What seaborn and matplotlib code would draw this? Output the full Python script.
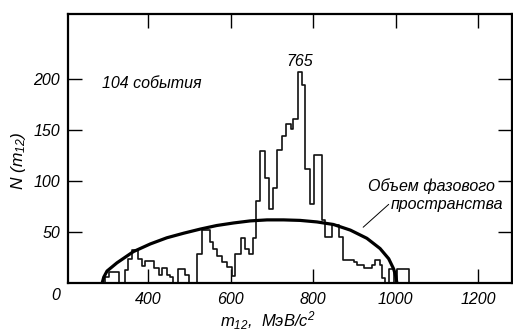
import numpy as np
import pandas as pd
import matplotlib
matplotlib.use("Agg")
import matplotlib.pyplot as plt
import seaborn as sns

# --- data ---
bin_edges = [288, 296, 304, 328, 344, 352, 360, 375, 385, 393,
             413, 425, 433, 445, 453, 461, 472, 490, 498, 518,
             530, 550, 558, 566, 579, 591, 603, 611, 625, 635,
             645, 653, 662, 672, 684, 692, 702, 712, 724, 735,
             746, 752, 762, 773, 781, 791, 801, 821, 829, 845,
             862, 873, 898, 906, 922, 942, 950, 961, 966, 974,
             983, 995, 1003, 1031, 1040]
bin_counts = [0, 6, 11, 0, 13, 24, 33, 24, 17, 22,
              15, 8, 15, 8, 6, 0, 14, 8, 0, 29,
              52, 40, 34, 27, 21, 16, 7, 29, 44, 34,
              29, 44, 80, 129, 103, 73, 93, 130, 144, 156,
              151, 161, 207, 194, 112, 78, 125, 62, 45, 57,
              45, 23, 21, 18, 15, 18, 23, 18, 5, 0,
              14, 0, 14, 0]

phase_mass = [288, 292, 300, 324, 364, 405, 445, 486, 526, 566, 607, 647,
              688, 728, 768, 809, 849, 890, 930, 962, 983, 995, 1000, 1003]
phase_value = [0, 6, 12, 20, 31, 38.5, 44.5, 49, 53, 56.5, 59, 61,
               62, 62, 61.5, 60, 57.5, 52, 44, 34, 24, 14, 7, 0]

x_ticks = [400, 600, 800, 1000, 1200]
y_ticks = [50, 100, 150, 200]

sns.set_theme(style="ticks")
FONT = ["Liberation Sans", "DejaVu Sans"]
plt.rcParams["font.family"] = FONT
plt.rcParams["font.style"] = "italic"
plt.rcParams["text.color"] = "black"
plt.rcParams["axes.labelcolor"] = "black"
plt.rcParams["mathtext.fontset"] = "custom"
plt.rcParams["mathtext.rm"] = "Liberation Sans:italic"
plt.rcParams["mathtext.it"] = "Liberation Sans:italic"

fig = plt.figure(figsize=(5.13, 3.31), dpi=100)
ax = fig.add_axes([0.1331, 0.1441, 0.865, 0.8127])

centers = [(a + b) / 2 for a, b in zip(bin_edges[:-1], bin_edges[1:])]
hist_df = pd.DataFrame({"m": centers, "n": bin_counts})
sns.histplot(data=hist_df, x="m", weights="n", bins=list(bin_edges),
             element="step", fill=False, color="#111111", linewidth=1.2, ax=ax)

phase_df = pd.DataFrame({"m": phase_mass, "v": phase_value})
sns.lineplot(data=phase_df, x="m", y="v", color="black", linewidth=2.3,
             sort=False, ax=ax)

ax.set_xlim(206, 1282)
ax.set_ylim(0, 263)
ax.set_xticks(x_ticks)
ax.set_yticks(y_ticks)
ax.tick_params(direction="in", length=10, width=1.0, top=True, right=True,
               labelsize=11.5, colors="black", pad=6)
for lab in ax.get_xticklabels() + ax.get_yticklabels():
    lab.set_fontstyle("italic")
for sp in ax.spines.values():
    sp.set_visible(True)
    sp.set_linewidth(1.6)
    sp.set_color("black")
ax.set_xlabel("")
ax.set_ylabel("")

fs = 11.5
fig.text(56 / 513, 1 - 295 / 331, "0", ha="center", va="center", fontsize=fs,
         style="italic", color="black")
fig.text(19 / 513, 1 - 161 / 331, r"$N\ (m_{12})$", ha="center", va="center",
         rotation=90, fontsize=12.5, color="black")
fig.text(268 / 513, 1 - 321 / 331, r"$m_{12}$,  МэВ/$c^2$", ha="center",
         va="center", fontsize=12, style="italic", color="black")

ax.text(767, 217, "765", ha="center", va="center", fontsize=fs, style="italic",
        color="black")
ax.text(288, 195, "104 события", ha="left", va="center", fontsize=fs,
        style="italic", color="black")
ax.text(933, 95, "Объем фазового", ha="left", va="center", fontsize=fs,
        style="italic", color="black")
ax.text(987, 76.6, "пространства", ha="left", va="center", fontsize=fs,
        style="italic", color="black")
ax.annotate("", xy=(916, 53), xytext=(988, 79),
            arrowprops=dict(arrowstyle="-", color="black", linewidth=0.7))

fig.savefig("out.png", dpi=100)
